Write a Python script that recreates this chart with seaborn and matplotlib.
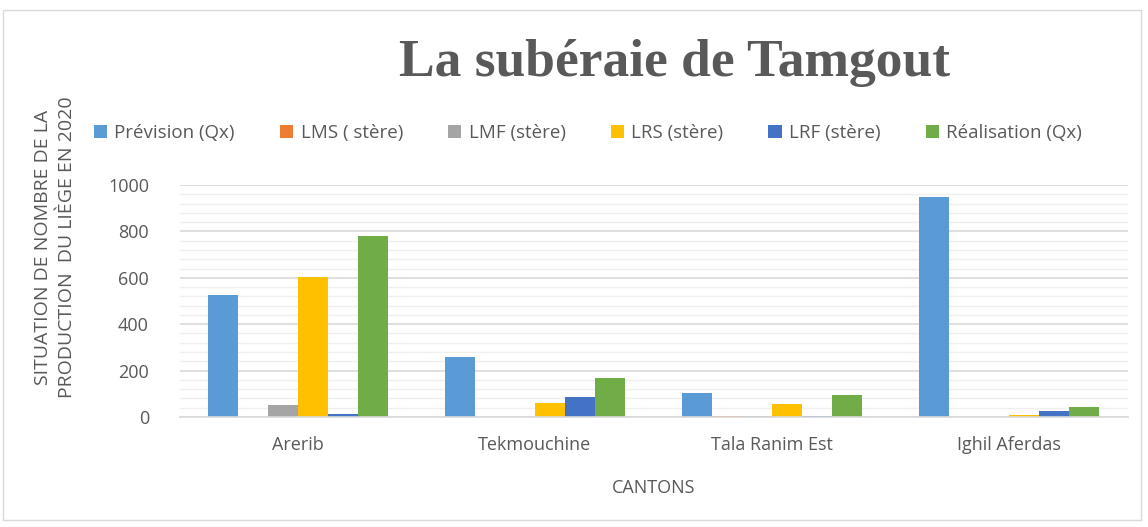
import matplotlib
matplotlib.use("Agg")
import matplotlib.pyplot as plt
import seaborn as sns
import pandas as pd
from matplotlib.patches import Rectangle
from matplotlib.ticker import MultipleLocator

cantons = ["Arerib", "Tekmouchine", "Tala Ranim Est", "Ighil Aferdas"]
series = ["Prévision (Qx)", "LMS ( stère)", "LMF (stère)", "LRS (stère)", "LRF (stère)", "Réalisation (Qx)"]
prevision = [525, 257, 103, 948]
lms = [0, 0, 3, 0]
lmf = [52, 0, 3, 1]
lrs = [603, 60, 56, 7]
lrf = [13, 86, 3, 25]
realisation = [781, 167, 95, 43]
colors = ["#5B9BD5", "#ED7D31", "#A5A5A5", "#FFC000", "#4472C4", "#70AD47"]

values = [prevision, lms, lmf, lrs, lrf, realisation]
rows = []
for s, vals in zip(series, values):
    for c, v in zip(cantons, vals):
        rows.append({"Canton": c, "Série": s, "Valeur": v})
df = pd.DataFrame(rows)

sns.set_theme(style="white")
plt.rcParams['font.family'] = ['Open Sans', 'DejaVu Sans']

W, H = 1148, 527
fig = plt.figure(figsize=(W / 100, H / 100), dpi=100)
ax = fig.add_axes([179.5 / W, 110 / H, 948 / W, 232 / H])

sns.barplot(data=df, x="Canton", y="Valeur", hue="Série", hue_order=series,
            palette=colors, width=0.76, gap=0, linewidth=0, saturation=1,
            errorbar=None, ax=ax, legend=True)

ax.set_ylim(0, 1000)
ax.set_xlim(-0.5, 3.5)
ax.yaxis.set_major_locator(MultipleLocator(200))
ax.yaxis.set_minor_locator(MultipleLocator(40))
ax.grid(which="minor", axis="y", color="#EFEFEF", linewidth=1)
ax.grid(which="major", axis="y", color="#D9D9D9", linewidth=1.2)
ax.set_axisbelow(True)
for sp in ["top", "right", "left"]:
    ax.spines[sp].set_visible(False)
ax.spines["bottom"].set_color("#D9D9D9")
ax.spines["bottom"].set_linewidth(1.2)
ax.tick_params(axis="both", which="both", length=0, colors="#595959", labelsize=13)
ax.tick_params(axis="y", pad=22)
ax.tick_params(axis="x", pad=14)
ax.set_xlabel("CANTONS", fontsize=13, color="#595959", labelpad=18)
ax.set_ylabel("")

handles, labels = ax.get_legend_handles_labels()
ax.get_legend().remove()
fig.legend(handles, labels, loc="center", bbox_to_anchor=(588 / W, 1 - 133 / H),
           ncol=6, frameon=False, fontsize=13.5, handlelength=0.7, handleheight=0.7,
           handletextpad=0.4, columnspacing=2.4, labelcolor="#595959")

fig.text(55 / W, 1 - 247 / H, "SITUATION DE NOMBRE DE LA\nPRODUCTION  DU LIÈGE EN 2020",
         rotation=90, ha="center", va="center", multialignment="center",
         fontsize=14, color="#595959", linespacing=1.45)

fig.text(675 / W, 1 - 76 / H, "La subéraie de Tamgout", ha="center", va="baseline",
         fontsize=38.5, fontweight="bold", color="#595959",
         family=["Liberation Serif", "DejaVu Serif"])

fig.patches.append(Rectangle((3 / W, 7 / H), 1138 / W, 510 / H, transform=fig.transFigure,
                             fill=False, edgecolor="#D9D9D9", linewidth=1))

fig.savefig("out.png", dpi=100)
